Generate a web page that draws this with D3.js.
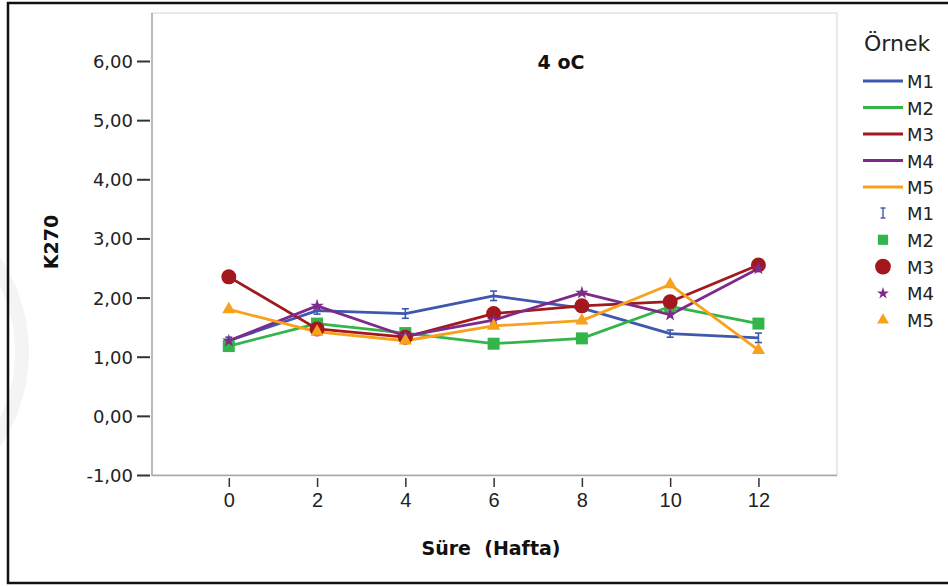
<!DOCTYPE html>
<html><head><meta charset="utf-8">
<script src="https://cdn.jsdelivr.net/npm/d3@7/dist/d3.min.js"></script>
<style>body{margin:0;background:#fff}svg{display:block;font-family:"DejaVu Sans",sans-serif}</style>
</head><body><svg id="c" width="948" height="586"></svg>
<script>
const weeks = [0, 2, 4, 6, 8, 10, 12];
const seriesNames = ["M1", "M2", "M3", "M4", "M5"];
const m1 = [1.27, 1.78, 1.73, 2.03, 1.82, 1.39, 1.32];
const m1Err = [0.06, 0.06, 0.08, 0.08, 0.05, 0.06, 0.08];
const m2 = [1.18, 1.56, 1.40, 1.22, 1.31, 1.85, 1.56];
const m3 = [2.35, 1.47, 1.33, 1.73, 1.86, 1.93, 2.55];
const m4 = [1.27, 1.86, 1.35, 1.62, 2.08, 1.71, 2.49];
const m5 = [1.80, 1.42, 1.27, 1.52, 1.61, 2.22, 1.11];
const yTicks = [-1, 0, 1, 2, 3, 4, 5, 6];
const colors = ["#3f57ad", "#33b54b", "#a3181c", "#7d2b8b", "#f8a11c"];
const title = "4 oC";
const xTitle = "Süre  (Hafta)";
const yTitle = "K270";
const legendTitle = "Örnek";

const seriesVals = [m1, m2, m3, m4, m5];
const svg = d3.select("#c");

// faint background arc
svg.append("circle").attr("cx", -140).attr("cy", 352).attr("r", 162)
  .attr("fill", "none").attr("stroke", "#f4f4f4").attr("stroke-width", 14);

// outer border
svg.append("rect").attr("x", 8).attr("y", 3).attr("width", 945).attr("height", 580)
  .attr("fill", "none").attr("stroke", "#111").attr("stroke-width", 2.5);

const L = 152, R = 837, T = 13, B = 475;
const x = d3.scaleLinear().domain([-1.74, 13.78]).range([L, R]);
const y = d3.scaleLinear().domain([-1, 6]).range([B, 61]);

// plot frame
svg.append("rect").attr("x", L).attr("y", T).attr("width", R - L).attr("height", B - T)
  .attr("fill", "#fff").attr("stroke", "#e2e2e2").attr("stroke-width", 1.5);
svg.append("line").attr("x1", L).attr("x2", R).attr("y1", B + 0.5).attr("y2", B + 0.5)
  .attr("stroke", "#a8a8a8").attr("stroke-width", 1.5);
svg.append("line").attr("x1", L).attr("x2", L).attr("y1", T).attr("y2", B + 1)
  .attr("stroke", "#a8a8a8").attr("stroke-width", 1.5);

// y axis
const yAxis = d3.axisLeft(y).tickValues(yTicks).tickSize(13).tickPadding(4)
  .tickFormat(d => d3.format(".2f")(d).replace(".", ",").replace("\u2212", "-"));
const ga = svg.append("g").attr("transform", `translate(${L - 2},0)`).call(yAxis);
ga.attr("font-family", null).attr("font-size", null);
ga.select(".domain").remove();
ga.selectAll(".tick line").attr("stroke", "#333").attr("stroke-width", 2);
ga.selectAll(".tick text").attr("fill", "#222").style("font-size", "18px").attr("dy", "0.36em");

// x axis
const xAxis = d3.axisBottom(x).tickValues(weeks).tickSize(9).tickPadding(6);
const gx = svg.append("g").attr("transform", `translate(0,${B + 3})`).call(xAxis);
gx.attr("font-family", null).attr("font-size", null);
gx.select(".domain").remove();
gx.selectAll(".tick line").attr("stroke", "#333").attr("stroke-width", 1.5);
gx.selectAll(".tick text").attr("fill", "#222").style("font-family", "'Liberation Sans',Arial,sans-serif").style("font-size", "20px");

// titles
svg.append("text").attr("x", 561).attr("y", 69).attr("text-anchor", "middle")
  .style("font-weight", "bold").style("font-size", "19px").attr("fill", "#111").text(title);
svg.append("text").attr("x", 491).attr("y", 555).attr("text-anchor", "middle").attr("xml:space", "preserve")
  .style("white-space", "pre")
  .style("font-weight", "bold").style("font-size", "19px").attr("fill", "#111").text(xTitle);
svg.append("text").attr("transform", "translate(58,242) rotate(-90)").attr("text-anchor", "middle")
  .style("font-weight", "bold").style("font-size", "19px").attr("fill", "#111").text(yTitle);

// lines
const line = d3.line().x((d, i) => x(weeks[i])).y(d => y(d));
seriesVals.forEach((vals, k) => {
  svg.append("path").datum(vals).attr("d", line).attr("fill", "none")
    .attr("stroke", colors[k]).attr("stroke-width", 2.8).attr("stroke-linejoin", "round");
});

// markers
function drawMarker(g, k, cx, cy, scale) {
  const c = colors[k];
  if (k === 1) g.append("rect").attr("x", cx - 6 * scale).attr("y", cy - 6 * scale)
    .attr("width", 12 * scale).attr("height", 12 * scale).attr("fill", c);
  else if (k === 2) g.append("circle").attr("cx", cx).attr("cy", cy).attr("r", 7.5 * scale).attr("fill", c);
  else if (k === 3) g.append("path").attr("transform", `translate(${cx},${cy})`)
    .attr("d", d3.symbol(d3.symbolStar, 55 * scale * scale)()).attr("fill", c);
  else if (k === 4) g.append("path").attr("transform", `translate(${cx},${cy})`)
    .attr("d", d3.symbol(d3.symbolTriangle, 75 * scale * scale)()).attr("fill", c);
}
// M1 error bars
m1.forEach((v, i) => {
  const cx = x(weeks[i]), y1 = y(v - m1Err[i]), y2 = y(v + m1Err[i]);
  const g = svg.append("g").attr("stroke", colors[0]).attr("stroke-width", 1.6);
  g.append("line").attr("x1", cx).attr("x2", cx).attr("y1", y1).attr("y2", y2);
  g.append("line").attr("x1", cx - 3.5).attr("x2", cx + 3.5).attr("y1", y1).attr("y2", y1);
  g.append("line").attr("x1", cx - 3.5).attr("x2", cx + 3.5).attr("y1", y2).attr("y2", y2);
});
[1, 2, 3, 4].forEach(k => {
  seriesVals[k].forEach((v, i) => drawMarker(svg, k, x(weeks[i]), y(v), 1));
});

// legend
const lg = svg.append("g");
lg.append("text").attr("x", 864).attr("y", 51).style("font-size", "22px").attr("fill", "#222").text(legendTitle);
seriesNames.forEach((n, k) => {
  const yy = 81 + k * 26.5;
  lg.append("line").attr("x1", 863).attr("x2", 903).attr("y1", yy).attr("y2", yy)
    .attr("stroke", colors[k]).attr("stroke-width", 2.8);
  lg.append("text").attr("x", 907).attr("y", yy + 7).style("font-size", "18px").attr("fill", "#222").text(n);
});
seriesNames.forEach((n, k) => {
  const yy = 213 + k * 26.8;
  const cx = 883;
  if (k === 0) {
    const g = lg.append("g").attr("stroke", colors[0]).attr("stroke-width", 1.4);
    g.append("line").attr("x1", cx).attr("x2", cx).attr("y1", yy - 5).attr("y2", yy + 5);
    g.append("line").attr("x1", cx - 2.5).attr("x2", cx + 2.5).attr("y1", yy - 5).attr("y2", yy - 5);
    g.append("line").attr("x1", cx - 2.5).attr("x2", cx + 2.5).attr("y1", yy + 5).attr("y2", yy + 5);
  } else {
    drawMarker(lg, k, cx, yy, k === 2 ? 1.05 : (k === 1 ? 0.85 : 0.9));
  }
  lg.append("text").attr("x", 907).attr("y", yy + 7).style("font-size", "18px").attr("fill", "#222").text(n);
});
</script></body></html>
